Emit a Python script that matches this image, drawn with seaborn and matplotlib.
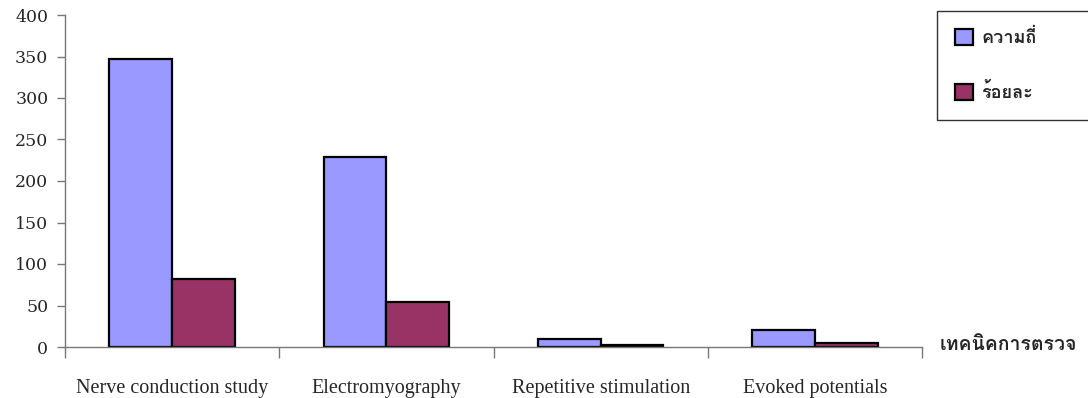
import matplotlib
matplotlib.use("Agg")
import matplotlib.pyplot as plt
from matplotlib import font_manager as fm
from matplotlib.ft2font import FT2Font
from matplotlib.ticker import FixedLocator
import pandas as pd
import seaborn as sns

# Examination techniques and their counts / percentages
techniques = ["Nerve conduction study", "Electromyography",
              "Repetitive stimulation", "Evoked potentials"]
frequency = [347, 229, 10, 20]
percent = [81.8, 54.0, 2.4, 4.7]
series_names = ["ความถี่", "ร้อยละ"]
y_ticks = [0, 50, 100, 150, 200, 250, 300, 350, 400]
x_axis_title = "เทคนิคการตรวจ"

colors = ["#9999FF", "#993366"]


def thai_family():
    """Find an installed family that can draw Thai, preferring a bold face."""
    found = []
    for f in fm.fontManager.ttflist:
        try:
            cmap = FT2Font(f.fname).get_charmap()
        except Exception:
            continue
        if 0x0E04 in cmap and 0x0E35 in cmap:
            w = f.weight if isinstance(f.weight, int) else 400
            found.append((f.name, w))
    if not found:
        return None
    bold = [n for n, w in found if w >= 600]
    return (bold or [found[0][0]])[0]


df = pd.DataFrame({
    "technique": techniques * 2,
    "series": [series_names[0]] * len(techniques) + [series_names[1]] * len(techniques),
    "value": frequency + percent,
})

sns.set_style("white")
thai = thai_family()
thai_fams = ([thai] if thai else []) + ["DejaVu Sans"]

fig = plt.figure(figsize=(10.88, 3.98), dpi=100)
ax = fig.add_axes([65 / 1088, 1 - 347 / 398, (922 - 65) / 1088, (347 - 15) / 398])

sns.barplot(data=df, x="technique", y="value", hue="series",
            order=techniques, hue_order=series_names,
            palette=colors, width=0.585, edgecolor="black", linewidth=1.6,
            saturation=1, ax=ax)

ax.set_xlim(-0.5, len(techniques) - 0.5)
ax.set_ylim(0, 400)
ax.set_xlabel("")
ax.set_ylabel("")

for side in ("top", "right"):
    ax.spines[side].set_visible(False)
for side in ("left", "bottom"):
    ax.spines[side].set_color("#777777")
    ax.spines[side].set_linewidth(1.0)

ax.set_yticks(y_ticks)
ax.set_yticklabels([str(t) for t in y_ticks], fontfamily="DejaVu Serif", fontsize=12.5)
ax.tick_params(axis="y", direction="out", length=6, width=1, color="#777777", pad=6, left=True)

ax.set_xticks(range(len(techniques)))
ax.set_xticklabels(techniques, fontfamily="Liberation Serif", fontsize=14.5)
ax.tick_params(axis="x", which="major", length=0, pad=23)
ax.xaxis.set_minor_locator(FixedLocator([i - 0.5 for i in range(len(techniques) + 1)]))
ax.tick_params(axis="x", which="minor", direction="out", length=8, width=1,
               color="#777777", bottom=True)

# legend box on the right edge
handles, labels = ax.get_legend_handles_labels()
ax.get_legend().remove()
leg = fig.legend(handles, labels, loc="upper left",
                 bbox_to_anchor=(937 / 1088, 1 - 125 / 398, 160 / 1088, 114 / 398),
                 mode="expand", frameon=True, fancybox=False,
                 borderpad=1.0, labelspacing=2.0, handlelength=1.0, handleheight=1.0,
                 handletextpad=0.45, borderaxespad=0,
                 prop={"family": thai_fams, "weight": "bold", "size": 13})
leg.get_frame().set_edgecolor("black")
leg.get_frame().set_linewidth(1.0)
for p in leg.get_patches():
    p.set_edgecolor("black")
    p.set_linewidth(1.6)

fig.text(940 / 1088, 1 - 345 / 398, x_axis_title, ha="left", va="center",
         family=thai_fams, weight="bold", fontsize=14)

fig.savefig("out.png", dpi=100, facecolor="white")
